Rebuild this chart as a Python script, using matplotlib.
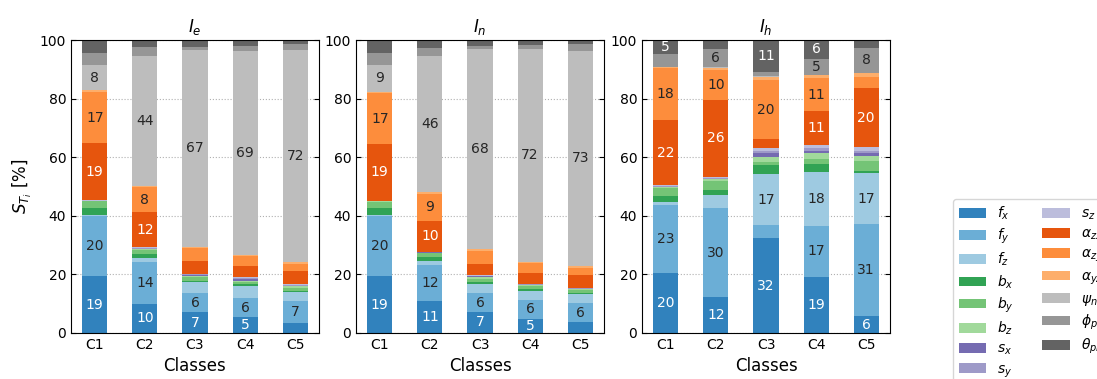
import numpy as np
import matplotlib
matplotlib.use("Agg")
from matplotlib import pyplot as plt

classes = ["C1", "C2", "C3", "C4", "C5"]
params = [r"$f_x$", r"$f_y$", r"$f_z$", r"$b_x$", r"$b_y$", r"$b_z$",
          r"$s_x$", r"$s_y$", r"$s_z$", r"$\alpha_{zx}$", r"$\alpha_{zy}$",
          r"$\alpha_{yz}$", r"$\psi_{nl}$", r"$\phi_{pl}$", r"$\theta_{pl}$"]

# total-order indices [%], rows = params, cols = classes C1..C5
S_e = [
    [19.4, 9.9, 7.1, 5.4, 3.4],
    [20.4, 14.2, 6.4, 6.4, 7.4],
    [0.4, 1.4, 3.8, 4.3, 3.2],
    [2.4, 1.4, 0.6, 0.5, 0.4],
    [2.4, 1.5, 1.1, 0.8, 1.1],
    [0.2, 0.3, 0.6, 0.5, 0.4],
    [0.0, 0.1, 0.3, 0.4, 0.2],
    [0.0, 0.2, 0.2, 0.4, 0.3],
    [0.1, 0.2, 0.2, 0.3, 0.2],
    [19.4, 12.2, 4.3, 4.0, 4.4],
    [17.4, 8.3, 4.4, 3.3, 2.5],
    [0.8, 0.4, 0.3, 0.4, 0.6],
    [8.4, 44.3, 67.4, 69.4, 72.4],
    [4.2, 3.3, 1.0, 1.8, 2.0],
    [4.5, 2.3, 2.3, 2.1, 1.5],
]
S_n = [
    [19.4, 10.8, 7.2, 4.9, 3.8],
    [20.4, 12.3, 6.4, 6.3, 6.3],
    [0.4, 1.4, 3.0, 3.2, 3.1],
    [2.4, 1.4, 0.7, 0.5, 0.4],
    [2.2, 1.3, 1.3, 1.1, 1.0],
    [0.2, 0.2, 0.5, 0.4, 0.3],
    [0.0, 0.1, 0.2, 0.1, 0.2],
    [0.0, 0.1, 0.2, 0.1, 0.2],
    [0.1, 0.2, 0.3, 0.1, 0.2],
    [19.4, 10.4, 3.8, 3.7, 4.3],
    [17.4, 9.3, 4.5, 3.4, 2.4],
    [0.4, 0.6, 0.4, 0.6, 0.8],
    [9.3, 46.4, 68.4, 72.4, 73.4],
    [4.0, 2.8, 0.9, 1.5, 2.2],
    [4.4, 2.7, 2.2, 1.7, 1.4],
]
S_h = [
    [20.4, 12.2, 32.3, 19.2, 5.7],
    [23.4, 30.4, 4.4, 17.4, 31.4],
    [0.8, 4.4, 17.4, 18.4, 17.4],
    [2.1, 1.7, 3.4, 2.6, 0.7],
    [2.9, 3.1, 0.7, 1.8, 3.4],
    [0.3, 0.7, 1.7, 2.1, 1.7],
    [0.1, 0.2, 1.4, 0.7, 1.0],
    [0.2, 0.3, 0.7, 1.0, 0.7],
    [0.2, 0.2, 1.0, 1.1, 1.4],
    [22.3, 26.4, 3.1, 11.3, 20.2],
    [17.8, 10.3, 20.3, 11.4, 3.8],
    [0.2, 0.6, 0.9, 0.9, 1.3],
    [0.2, 0.3, 0.4, 0.3, 0.2],
    [4.4, 6.2, 1.4, 5.4, 8.4],
    [4.7, 3.0, 10.9, 6.4, 2.7],
]
titles = [r"$I_e$", r"$I_n$", r"$I_h$"]

# tab20c: blues, greens, purples, oranges, then greys light -> dark
colors = plt.cm.tab20c([0, 1, 2, 8, 9, 10, 12, 13, 14, 4, 5, 6, 18, 17, 16])
white_text = [0, 9, 14]

fig = plt.figure(figsize=(10.97, 3.79), dpi=100)
lefts = [71 / 1097, 356 / 1097, 642 / 1097]
x = np.arange(len(classes))
for k, S in enumerate([S_e, S_n, S_h]):
    ax = fig.add_axes([lefts[k], 1 - 333 / 379, 248 / 1097, 293 / 379])
    S = np.array(S)
    bottom = np.zeros(len(classes))
    for i in range(len(params)):
        ax.bar(x, S[i], 0.5, bottom=bottom, color=colors[i], label=params[i], zorder=2)
        for j in range(len(classes)):
            if round(S[i][j]) >= 5:
                ax.text(x[j], bottom[j] + S[i][j] / 2, "%d" % round(S[i][j]),
                        ha="center", va="center", fontsize=10,
                        color="white" if i in white_text else "#262626", zorder=3)
        bottom += S[i]
    ax.set_ylim(0, 100)
    ax.set_xticks(x)
    ax.set_xticklabels(classes)
    ax.set_yticks([0, 20, 40, 60, 80, 100])
    ax.tick_params(direction="in", right=True, labelsize=10)
    ax.grid(axis="y", linestyle=":", color="#b0b0b0", zorder=0)
    ax.set_axisbelow(True)
    ax.set_title(titles[k], fontsize=12)
    ax.set_xlabel("Classes", fontsize=12)
    if k == 0:
        ax.set_ylabel(r"$S_{T_i}$ [%]", fontsize=12)
        handles, labels = ax.get_legend_handles_labels()

fig.legend(handles, labels, loc="upper left", bbox_to_anchor=(953 / 1097, 1 - 199 / 379),
           borderaxespad=0, ncol=2, fontsize=10, labelspacing=0.35)
fig.savefig("out.png", dpi=100)
